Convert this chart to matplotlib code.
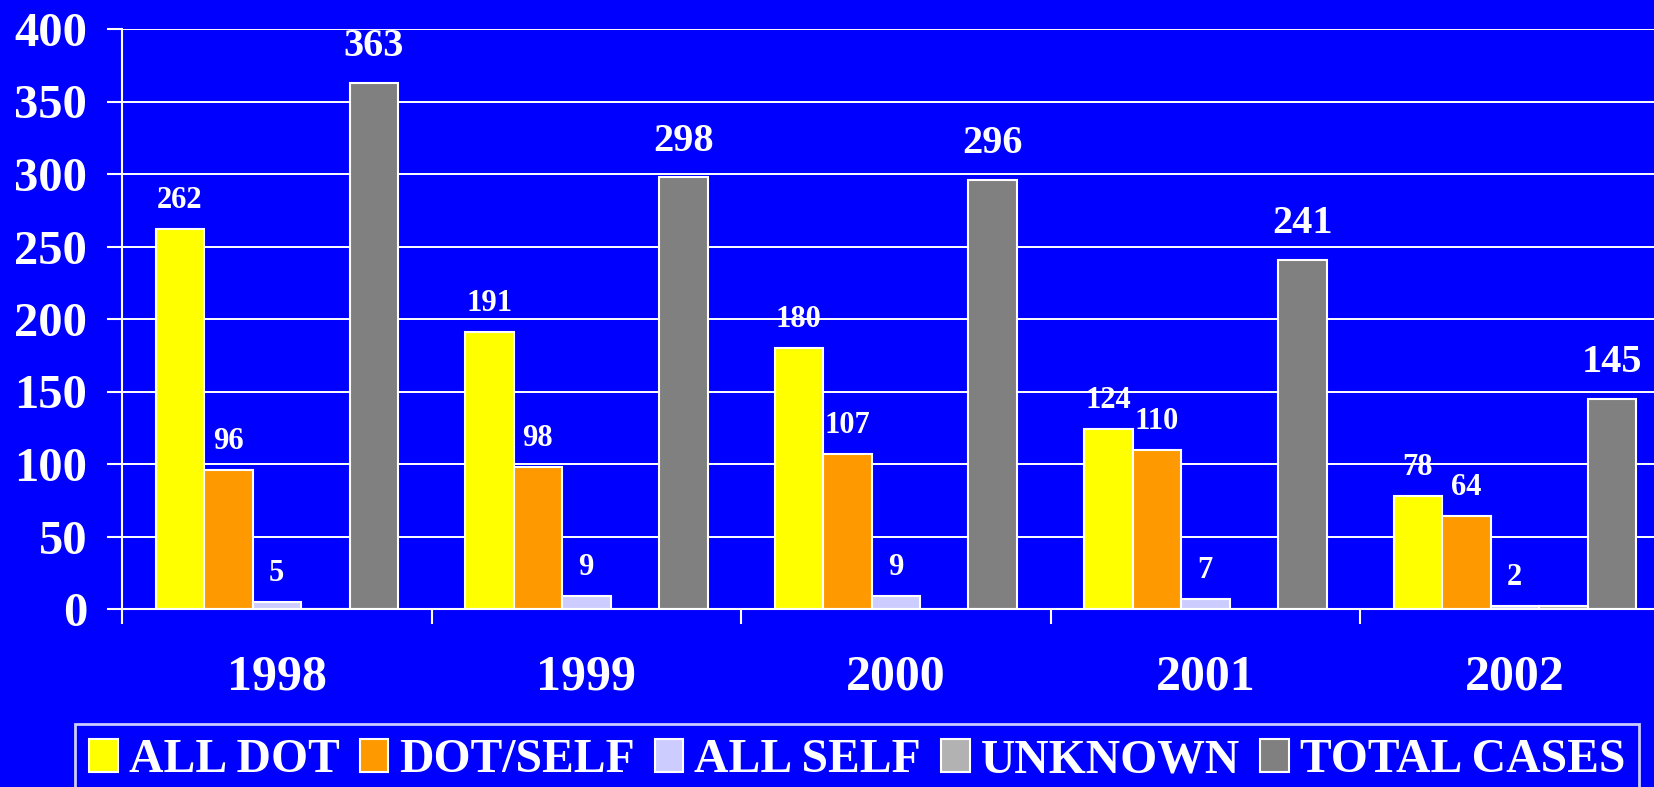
import matplotlib
matplotlib.use("Agg")
import matplotlib.pyplot as plt
import numpy as np

years = ["1998", "1999", "2000", "2001", "2002"]
series_names = ["ALL DOT", "DOT/SELF", "ALL SELF", "UNKNOWN", "TOTAL CASES"]
all_dot = [262, 191, 180, 124, 78]
dot_self = [96, 98, 107, 110, 64]
all_self = [5, 9, 9, 7, 2]
unknown = [0, 0, 0, 0, 2]
total_cases = [363, 298, 296, 241, 145]
y_ticks = [0, 50, 100, 150, 200, 250, 300, 350, 400]

colors = ["#FFFF00", "#FF9900", "#CCCCFF", "#B2B2B2", "#808080"]
BLUE = "#0000FF"

plt.rcParams["font.family"] = ["Liberation Serif", "DejaVu Serif"]
plt.rcParams["font.weight"] = "bold"

W, H = 1654, 787
fig = plt.figure(figsize=(W / 100, H / 100), dpi=100, facecolor=BLUE)
ax = fig.add_axes([122 / W, 1 - 609 / H, 5 * 309.5 / W, 580 / H])
ax.set_facecolor(BLUE)

data = [all_dot, dot_self, all_self, unknown, total_cases]
x = np.arange(len(years))
bw = 48.5 / 309.5
for k, (vals, name, col) in enumerate(zip(data, series_names, colors)):
    pos = x + (k - 2) * bw
    bars = ax.bar(pos, vals, width=bw, color=col, edgecolor="white",
                  linewidth=1.5, label=name, zorder=2)
    if name == "UNKNOWN":
        continue
    big = name == "TOTAL CASES"
    for p, v in zip(pos, vals):
        ax.annotate(str(v), (p, v), xytext=(0, 19 if big else 15),
                    textcoords="offset points", ha="center", va="baseline",
                    color="white", fontsize=29 if big else 22,
                    fontweight="bold", zorder=3)

ax.set_xlim(-0.5, len(years) - 0.5)
ax.set_ylim(0, 400)
ax.set_yticks(y_ticks)
ax.set_yticklabels([str(t) for t in y_ticks])
ax.yaxis.grid(True, color="white", linewidth=1.4)
ax.set_axisbelow(True)

ax.set_xticks(np.arange(len(years) + 1) - 0.5)
ax.set_xticklabels([])
ax.set_xticks(x, minor=True)
ax.set_xticklabels(years, minor=True)
ax.tick_params(axis="x", which="major", length=11, width=1.5, color="white", direction="out")
ax.tick_params(axis="x", which="minor", length=0, pad=33, labelsize=36, labelcolor="white")
ax.tick_params(axis="y", length=11, width=1.5, color="white", direction="out",
               pad=14, labelsize=35, labelcolor="white")
for lab in ax.get_xticklabels(minor=True) + ax.get_yticklabels():
    lab.set_fontweight("bold")

for s in ["top", "right"]:
    ax.spines[s].set_visible(False)
for s in ["left", "bottom"]:
    ax.spines[s].set_color("white")
    ax.spines[s].set_linewidth(1.5)
    ax.spines[s].set_zorder(4)

leg = fig.legend(loc="upper left", bbox_to_anchor=(75 / W, 1 - 724 / H),
                 bbox_transform=fig.transFigure, ncol=5, frameon=True,
                 fancybox=False, facecolor=BLUE, edgecolor="white",
                 prop={"family": ["Liberation Serif"], "weight": "bold", "size": 34.3},
                 handlelength=0.6, handleheight=0.68, handletextpad=0.23,
                 columnspacing=0.42, borderpad=0.3, borderaxespad=0)
leg.get_frame().set_linewidth(2)
for t in leg.get_texts():
    t.set_color("white")

fig.savefig("out.png", dpi=100, facecolor=BLUE)
